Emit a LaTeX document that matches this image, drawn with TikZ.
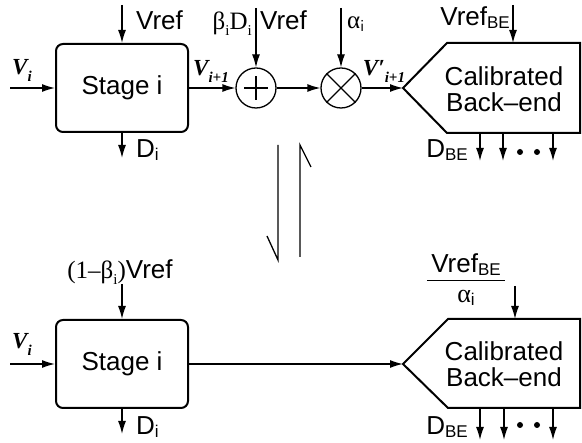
\documentclass[tikz,border=0pt]{standalone}
\usepackage{fontspec}
\setmainfont{Liberation Sans}
\newfontfamily\serif{Liberation Serif}
\usetikzlibrary{arrows.meta}
\newcommand\dsub[2][7pt]{\raisebox{-#1}{\fontsize{15}{15}\selectfont #2}}
\newcommand\ssub[1]{\raisebox{-3pt}{\fontsize{17}{17}\selectfont #1}}
\tikzset{
 conn/.style={line width=1.3pt, -{Latex[length=13pt,width=8pt]}},
 plain/.style={line width=1.3pt},
 blk/.style={draw, line width=2pt, rounded corners=7pt, minimum width=132pt, minimum height=88pt, inner sep=0pt, font=\fontsize{26}{28}\selectfont},
 op/.style={draw, circle, line width=1.3pt, minimum size=40pt, inner sep=0pt},
 shp/.style={line width=2pt, line join=miter},
 lbl/.style={font=\fontsize{26}{28}\selectfont, inner sep=0pt},
 vlbl/.style={font=\serif\bfseries\itshape\fontsize{23}{24}\selectfont, inner sep=0pt},
 glbl/.style={font=\serif\fontsize{25}{27}\selectfont, inner sep=0pt},
 dot/.style={circle, fill, inner sep=0pt, minimum size=6pt},
}
\begin{document}
\begin{tikzpicture}[x=1pt,y=-1pt]
\useasboundingbox (0,0) rectangle (582,443);
% ---------- top chain ----------
\node[blk] (st1) at (122,88) {Stage i};
\coordinate (in1) at (10,88);
\draw[conn] (in1) -- (st1.west);
\node[vlbl] (v1) at (22,70) {V\dsub{\bfseries\itshape i}};
\coordinate (vr1) at (122,5);
\draw[conn] (vr1) -- (st1.north);
\node[lbl, anchor=west] (vref1) at (136,20) {Vref};
\coordinate (d1) at (122,158);
\draw[conn] (st1.south) -- (d1);
\node[lbl, anchor=west] (dl1) at (136,150) {D\ssub{i}};

\node[op] (plus) at (256,88) {};
\draw[plain] ([xshift=-12pt]plus.center) -- ([xshift=12pt]plus.center);
\draw[plain] ([yshift=-12pt]plus.center) -- ([yshift=12pt]plus.center);
\draw[conn] (st1.east) -- (plus.west);
\node[vlbl] (v2) at (211,71) {V\dsub{\bfseries\itshape i+1}};
\coordinate (bd) at (256,8);
\draw[conn] (bd) -- (plus.north);
\node[glbl, anchor=east] (bdl) at (252,24) {β\dsub[6pt]{i}D\dsub[6pt]{i}};
\node[lbl, anchor=west] (vref2) at (260,20) {Vref};

\node[op] (times) at (341,88) {};
\draw[plain] (times.north west) -- (times.south east);
\draw[plain] (times.north east) -- (times.south west);
\draw[conn] (plus.east) -- (times.west);
\coordinate (al) at (341,8);
\draw[conn] (al) -- (times.north);
\node[glbl, anchor=west] (all) at (347,24) {α\ssub{\sffamily i}};

\coordinate (tip1) at (403,88);
\draw[conn] (times.east) -- (tip1);
\node[vlbl] (v3) at (384,71) {V′\dsub{\bfseries\itshape i+1}};
\draw[shp] (tip1) -- (447,43) -- (580,43) -- (580,133) -- (447,133) -- cycle;
\node[lbl, align=center] (be1) at (504,89) {Calibrated\\[-2pt]Back–end};
\coordinate (vb1) at (513,5);
\coordinate (vb1e) at (513,43);
\draw[conn] (vb1) -- (vb1e);
\node[lbl, anchor=east] (vbl1) at (510,18) {Vref\ssub{BE}};
\foreach \x [count=\k] in {480,503,553}{
  \coordinate (ds\k) at (\x,133);
  \coordinate (de\k) at (\x,161);
  \draw[conn] (ds\k) -- (de\k);
}
\node[dot] (p1) at (520,152) {};
\node[dot] (p2) at (537,152) {};
\node[lbl, anchor=east] (dbe1) at (468,150) {D\ssub{BE}};

% ---------- equilibrium harpoons ----------
\draw[plain] (278,145) -- (278,260) -- (267,236);
\draw[plain] (300,257) -- (300,145) -- (311,167);

% ---------- bottom chain ----------
\node[blk] (st2) at (122,364) {Stage i};
\coordinate (in2) at (10,364);
\draw[conn] (in2) -- (st2.west);
\node[vlbl] (v4) at (22,344) {V\dsub{\bfseries\itshape i}};
\coordinate (vr2) at (122,284);
\draw[conn] (vr2) -- (st2.north);
\node[inner sep=0pt] (vrl2) at (120,272) {{\serif\fontsize{25}{27}\selectfont (1–β\dsub[6pt]{i})}{\fontsize{26}{28}\selectfont Vref}};
\coordinate (d2) at (122,434);
\draw[conn] (st2.south) -- (d2);
\node[lbl, anchor=west] (dl2) at (136,427) {D\ssub{i}};

\coordinate (tip2) at (403,364);
\draw[conn] (st2.east) -- (tip2);
\draw[shp] (tip2) -- (448,319) -- (580,319) -- (580,408) -- (448,408) -- cycle;
\node[lbl, align=center] (be2) at (504,364) {Calibrated\\[-2pt]Back–end};
\node[inner sep=0pt] (frac) at (466,282) {\fontsize{26}{28}\selectfont\begin{tabular}{@{\,}c@{\,}}Vref\ssub{BE}\\[-1pt]\hline\rule{0pt}{22pt}{\serif α}\ssub{i}\end{tabular}};
\coordinate (vb2) at (515,286);
\coordinate (vb2e) at (515,319);
\draw[conn] (vb2) -- (vb2e);
\foreach \x [count=\k] in {480,504,553}{
  \coordinate (es\k) at (\x,408);
  \coordinate (ee\k) at (\x,440);
  \draw[conn] (es\k) -- (ee\k);
}
\node[dot] (q1) at (520,425) {};
\node[dot] (q2) at (537,425) {};
\node[lbl, anchor=east] (dbe2) at (468,427) {D\ssub{BE}};
\end{tikzpicture}
\end{document}
